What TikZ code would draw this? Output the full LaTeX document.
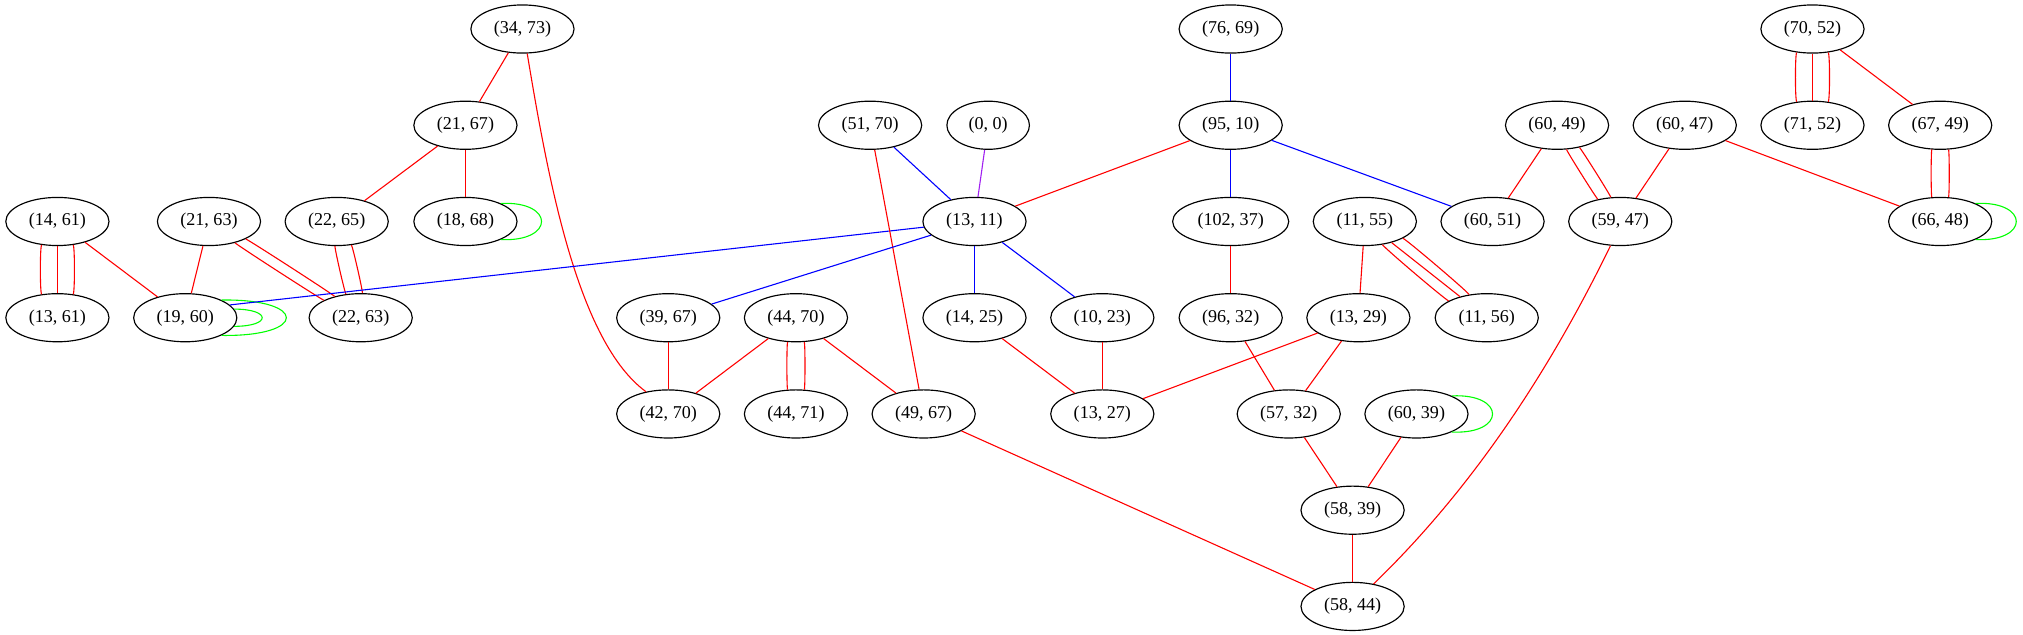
\documentclass[tikz,border=0pt]{standalone}
\usepackage{fontspec}
\setmainfont{Liberation Serif}
\usetikzlibrary{shapes.geometric,calc}
\definecolor{gvred}{RGB}{255,0,0}
\definecolor{gvblue}{RGB}{0,0,255}
\definecolor{gvgreen}{RGB}{0,255,0}
\definecolor{gvpurple}{RGB}{160,32,240}
\begin{document}
\begin{tikzpicture}[x=1pt,y=1pt,
  nd/.style={draw=black,ellipse,line width=0.9pt,inner sep=0pt,minimum width=80pt,minimum height=37.3pt,font=\fontsize{14}{16}\selectfont},
  re/.style={draw=gvred,line width=0.85pt},
  be/.style={draw=gvblue,line width=0.85pt},
  pe/.style={draw=gvpurple,line width=0.85pt},
  ge/.style={draw=gvgreen,line width=0.85pt},
  pl/.style={bend left=#1,looseness=0.15},
  pr/.style={bend right=#1,looseness=0.15}]
\useasboundingbox (0,0) rectangle (1568.2,492.2);
% rank 0
\node[nd] (n3473) at (405,469.7) {(34, 73)};
\node[nd] (n7669) at (954,469.7) {(76, 69)};
\node[nd] (n7052) at (1405,469.7) {(70, 52)};
% rank 1
\node[nd] (n2167) at (360.8,395.1) {(21, 67)};
\node[nd] (n5170) at (674.5,395.1) {(51, 70)};
\node[nd,minimum width=64pt] (n00) at (766,395.1) {(0, 0)};
\node[nd] (n9510) at (954,395.1) {(95, 10)};
\node[nd] (n6049) at (1207,395.1) {(60, 49)};
\node[nd] (n6047) at (1306,395.1) {(60, 47)};
\node[nd] (n7152) at (1405,395.1) {(71, 52)};
\node[nd] (n6749) at (1504,395.1) {(67, 49)};
% rank 2
\node[nd] (n1461) at (44.5,320.5) {(14, 61)};
\node[nd] (n2163) at (162,320.5) {(21, 63)};
\node[nd] (n2265) at (261,320.5) {(22, 65)};
\node[nd] (n1868) at (360.8,320.5) {(18, 68)};
\node[nd] (n1311) at (755.4,320.5) {(13, 11)};
\node[nd,minimum width=90pt] (n10237) at (954,320.5) {(102, 37)};
\node[nd] (n1155) at (1058,320.5) {(11, 55)};
\node[nd] (n6051) at (1157,320.5) {(60, 51)};
\node[nd] (n5947) at (1256,320.5) {(59, 47)};
\node[nd] (n6648) at (1504,320.5) {(66, 48)};
% rank 3
\node[nd] (n1361) at (44.5,245.9) {(13, 61)};
\node[nd] (n1960) at (143.6,245.9) {(19, 60)};
\node[nd] (n2263) at (279.6,245.9) {(22, 63)};
\node[nd] (n3967) at (518,245.9) {(39, 67)};
\node[nd] (n4470) at (617,245.9) {(44, 70)};
\node[nd] (n1425) at (755.4,245.9) {(14, 25)};
\node[nd] (n1023) at (854.5,245.9) {(10, 23)};
\node[nd] (n9632) at (954,245.9) {(96, 32)};
\node[nd] (n1329) at (1053,245.9) {(13, 29)};
\node[nd] (n1156) at (1152.5,245.9) {(11, 56)};
% rank 4
\node[nd] (n4270) at (518,171.3) {(42, 70)};
\node[nd] (n4471) at (617,171.3) {(44, 71)};
\node[nd] (n4967) at (716,171.3) {(49, 67)};
\node[nd] (n1327) at (854.5,171.3) {(13, 27)};
\node[nd] (n5732) at (999,171.3) {(57, 32)};
\node[nd] (n6039) at (1098,171.3) {(60, 39)};
% rank 5, 6
\node[nd] (n5839) at (1048.5,96.7) {(58, 39)};
\node[nd] (n5844) at (1048.5,22.1) {(58, 44)};

% edges
\draw[re] (n3473) -- (n2167);
\draw[re] (n3473.281) .. controls (425,352.2) and (448,227.2) .. (n4270.135);
\draw[re] (n2167) -- (n2265);
\draw[re] (n2167) -- (n1868);
\draw[ge] (n1868.27) .. controls +(42,2) and +(42,-2) .. (n1868.-27);
\draw[re] (n1461) -- (n1361);
\draw[re] (n1461) to[pl=34] (n1361);
\draw[re] (n1461) to[pr=34] (n1361);
\draw[re] (n1461) -- (n1960);
\draw[re] (n2163) -- (n1960);
\draw[re] (n2163) to[pl=7] (n2263);
\draw[re] (n2163) to[pr=7] (n2263);
\draw[re] (n2265) to[pl=18] (n2263);
\draw[re] (n2265) to[pr=18] (n2263);
\draw[ge] (n1960.10) .. controls +(29,0) and +(29,0) .. (n1960.-10);
\draw[ge] (n1960.26) .. controls +(67,1) and +(67,-1) .. (n1960.-26);
\draw[be] (n1311) -- (n1960.16);
\draw[be] (n5170) -- (n1311);
\draw[re] (n5170) -- (n4967);
\draw[pe] (n00) -- (n1311);
\draw[re] (n9510) -- (n1311);
\draw[be] (n7669) -- (n9510);
\draw[be] (n9510) -- (n10237);
\draw[be] (n9510) -- (n6051);
\draw[be] (n1311) -- (n3967);
\draw[be] (n1311) -- (n1425);
\draw[be] (n1311) -- (n1023);
\draw[re] (n3967) -- (n4270);
\draw[re] (n4470) -- (n4270);
\draw[re] (n4470) to[pl=19] (n4471);
\draw[re] (n4470) to[pr=19] (n4471);
\draw[re] (n4470) -- (n4967);
\draw[re] (n1425) -- (n1327);
\draw[re] (n1023) -- (n1327);
\draw[re] (n10237) -- (n9632);
\draw[re] (n9632) -- (n5732);
\draw[re] (n1329) -- (n1327);
\draw[re] (n1329) -- (n5732);
\draw[re] (n1155) -- (n1329);
\draw[re] (n1155) -- (n1156);
\draw[re] (n1155) to[pl=14.5] (n1156);
\draw[re] (n1155) to[pr=14.5] (n1156);
\draw[re] (n6049) -- (n6051);
\draw[re] (n6049) to[pl=12] (n5947);
\draw[re] (n6049) to[pr=12] (n5947);
\draw[re] (n6047) -- (n5947);
\draw[re] (n6047) -- (n6648);
\draw[re] (n7052) -- (n7152);
\draw[re] (n7052) to[pl=34] (n7152);
\draw[re] (n7052) to[pr=34] (n7152);
\draw[re] (n7052) -- (n6749);
\draw[re] (n6749) to[pl=19] (n6648);
\draw[re] (n6749) to[pr=19] (n6648);
\draw[ge] (n6648.27) .. controls +(42,2) and +(42,-2) .. (n6648.-27);
\draw[re] (n5947.248) .. controls (1200,202.2) and (1140,112.2) .. (n5844.47);
\draw[re] (n5732) -- (n5839);
\draw[re] (n6039) -- (n5839);
\draw[ge] (n6039.27) .. controls +(42,2) and +(42,-2) .. (n6039.-27);
\draw[re] (n5839) -- (n5844);
\draw[re] (n4967) -- (n5844);
\end{tikzpicture}
\end{document}
